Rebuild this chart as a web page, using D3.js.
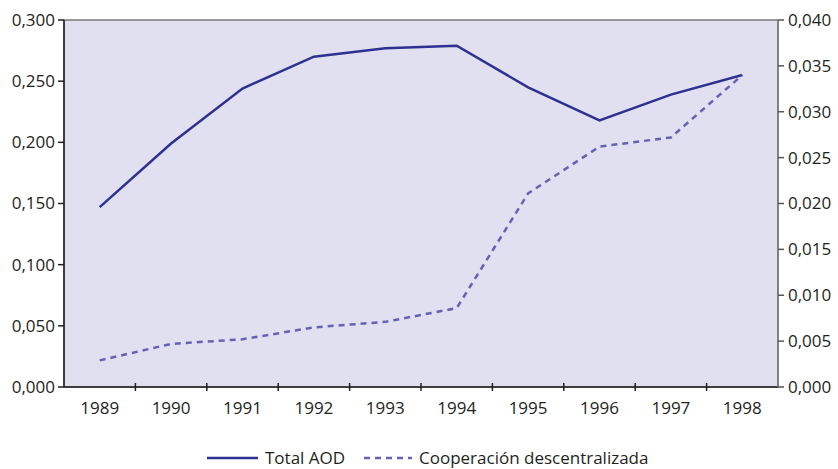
<!DOCTYPE html>
<html>
<head>
<meta charset="utf-8">
<script src="https://cdn.jsdelivr.net/npm/d3@7"></script>
<style>
  body { margin: 0; background: #fff; }
  text { font-family: "Open Sans", "Noto Sans", sans-serif; fill: #231f20; }
</style>
</head>
<body>
<div id="chart"></div>
<script>
const years = ["1989", "1990", "1991", "1992", "1993", "1994", "1995", "1996", "1997", "1998"];
const totalAOD = [0.147, 0.199, 0.244, 0.270, 0.277, 0.279, 0.245, 0.218, 0.239, 0.255];
const coopDesc = [0.0029, 0.0047, 0.0052, 0.0065, 0.0071, 0.0086, 0.0211, 0.0262, 0.0272, 0.034];
const leftTicks = [0, 0.05, 0.1, 0.15, 0.2, 0.25, 0.3];
const rightTicks = [0, 0.005, 0.01, 0.015, 0.02, 0.025, 0.03, 0.035, 0.04];

const margin = { top: 20, right: 60, bottom: 82, left: 64 },
  width = 838 - margin.left - margin.right,
  height = 469 - margin.top - margin.bottom;

const fmt = (d, n) => d.toFixed(n).replace(".", ",");

const svg = d3
  .select("#chart")
  .append("svg")
  .attr("width", 838)
  .attr("height", 469)
  .append("g")
  .attr("transform", `translate(${margin.left},${margin.top})`);

const x = d3.scaleBand().domain(years).range([0, width]);
const y = d3.scaleLinear().domain([0, 0.3]).range([height, 0]);
const y2 = d3.scaleLinear().domain([0, 0.04]).range([height, 0]);

// plot background
svg.append("rect")
  .attr("width", width)
  .attr("height", height)
  .attr("fill", "#e1e0f0")
  .attr("stroke", "#7a7a7a")
  .attr("stroke-width", 1.5);

// x axis: ticks at band boundaries
const xAxis = svg.append("g").attr("transform", `translate(0,${height})`);
xAxis.append("line").attr("x1", 0).attr("x2", width).attr("stroke", "#231f20").attr("stroke-width", 1.5);
xAxis.selectAll(".xt")
  .data(years.slice(1))
  .enter()
  .append("line")
  .attr("x1", (d) => x(d)).attr("x2", (d) => x(d))
  .attr("y1", -4).attr("y2", 4)
  .attr("stroke", "#231f20").attr("stroke-width", 1.5);
xAxis.selectAll(".xl")
  .data(years)
  .enter()
  .append("text")
  .attr("x", (d) => x(d) + x.bandwidth() / 2)
  .attr("y", 27)
  .attr("text-anchor", "middle")
  .style("font-size", "17px")
  .text((d) => d);

// left axis
const yAxis = svg.append("g");
yAxis.append("line").attr("y1", 0).attr("y2", height).attr("stroke", "#231f20").attr("stroke-width", 1.5);
yAxis.selectAll(".yt")
  .data(leftTicks)
  .enter()
  .append("line")
  .attr("x1", -6).attr("x2", 0)
  .attr("y1", (d) => y(d)).attr("y2", (d) => y(d))
  .attr("stroke", "#231f20").attr("stroke-width", 1.5);
yAxis.selectAll(".yl")
  .data(leftTicks)
  .enter()
  .append("text")
  .attr("x", -9)
  .attr("y", (d) => y(d))
  .attr("dy", "0.35em")
  .attr("text-anchor", "end")
  .style("font-size", "17px")
  .text((d) => fmt(d, 3));

// right axis
const y2Axis = svg.append("g").attr("transform", `translate(${width},0)`);
y2Axis.append("line").attr("y1", 0).attr("y2", height).attr("stroke", "#7a7a7a").attr("stroke-width", 1.5);
y2Axis.selectAll(".yt")
  .data(rightTicks)
  .enter()
  .append("line")
  .attr("x1", 0).attr("x2", 6)
  .attr("y1", (d) => y2(d)).attr("y2", (d) => y2(d))
  .attr("stroke", "#555").attr("stroke-width", 1.5);
y2Axis.selectAll(".yl")
  .data(rightTicks)
  .enter()
  .append("text")
  .attr("x", 10)
  .attr("y", (d) => y2(d))
  .attr("dy", "0.35em")
  .attr("text-anchor", "start")
  .style("font-size", "17px")
  .text((d) => fmt(d, 3));

const cx = (i) => x(years[i]) + x.bandwidth() / 2;

svg.append("path")
  .datum(totalAOD)
  .attr("fill", "none")
  .attr("stroke", "#2e3192")
  .attr("stroke-width", 2.5)
  .attr("d", d3.line().x((d, i) => cx(i)).y((d) => y(d)));

svg.append("path")
  .datum(coopDesc)
  .attr("fill", "none")
  .attr("stroke", "#6561b5")
  .attr("stroke-width", 2.5)
  .attr("stroke-dasharray", "6,5")
  .attr("d", d3.line().x((d, i) => cx(i)).y((d) => y2(d)));

// legend
const legend = svg.append("g").attr("transform", `translate(0,${height + 71})`);
legend.append("line")
  .attr("x1", 207 - margin.left).attr("x2", 258 - margin.left)
  .attr("stroke", "#2e3192").attr("stroke-width", 2.5);
legend.append("text")
  .attr("x", 265 - margin.left).attr("dy", "0.35em")
  .style("font-size", "17px")
  .text("Total AOD");
legend.append("line")
  .attr("x1", 364 - margin.left).attr("x2", 412 - margin.left)
  .attr("stroke", "#6561b5").attr("stroke-width", 2.5)
  .attr("stroke-dasharray", "6,5");
legend.append("text")
  .attr("x", 419 - margin.left).attr("dy", "0.35em")
  .style("font-size", "17px")
  .text("Cooperación descentralizada");
</script>
</body>
</html>
